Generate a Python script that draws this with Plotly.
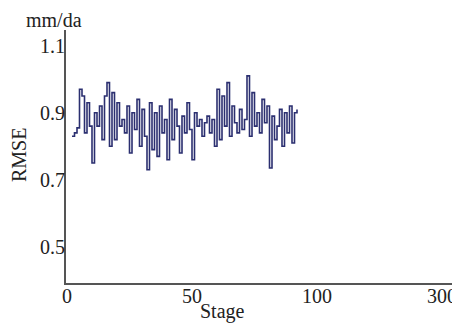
import plotly.graph_objects as go

stages = list(range(2, 93))
rmse = [0.83, 0.84, 0.855, 0.97, 0.95, 0.84, 0.93, 0.86, 0.75, 0.90,
        0.86, 0.92, 0.82, 0.95, 0.99, 0.80, 0.96, 0.82, 0.93, 0.86,
        0.88, 0.84, 0.92, 0.78, 0.90, 0.85, 0.94, 0.80, 0.91, 0.83,
        0.73, 0.93, 0.79, 0.90, 0.77, 0.92, 0.84, 0.88, 0.76, 0.94,
        0.82, 0.91, 0.86, 0.78, 0.89, 0.84, 0.93, 0.85, 0.76, 0.90,
        0.86, 0.88, 0.83, 0.87, 0.89, 0.84, 0.88, 0.80, 0.97, 0.82,
        0.95, 0.86, 0.99, 0.83, 0.92, 0.87, 0.84, 0.91, 0.85, 0.88,
        1.01, 0.83, 0.96, 0.86, 0.90, 0.84, 0.94, 0.87, 0.92, 0.735,
        0.89, 0.82, 0.86, 0.91, 0.80, 0.90, 0.84, 0.92, 0.81, 0.90,
        0.91]

xtick_vals = [0, 50, 100, 150]
xtick_text = ["0", "50", "100", "300"]
ytick_vals = [0.5, 0.7, 0.9, 1.1]
ytick_text = ["0.5", "0.7", "0.9", "1.1"]

font = dict(family="Liberation Serif, Times New Roman, serif", size=20, color="#222")

fig = go.Figure(go.Scatter(x=stages, y=rmse, mode="lines",
                           line=dict(color="#2b2f70", width=1.6, shape="hv")))

fig.update_layout(
    width=460, height=325,
    margin=dict(l=58, r=8, t=22, b=50, autoexpand=False),
    paper_bgcolor="white", plot_bgcolor="white",
    showlegend=False,
    font=font,
    xaxis=dict(range=[-0.4, 157.2], tickvals=xtick_vals, ticktext=xtick_text,
               showgrid=False, zeroline=False, showline=True,
               linecolor="#555", linewidth=2, ticks="", automargin=False,
               ticklabelstandoff=-6),
    yaxis=dict(range=[0.392, 1.147], tickvals=ytick_vals, ticktext=ytick_text,
               showgrid=False, zeroline=False, showline=True,
               linecolor="#555", linewidth=2, ticks="", automargin=False,
               ticklabelstandoff=-5),
    annotations=[
        dict(text="mm/da", x=-0.030, y=1.040, xref="paper", yref="paper",
             showarrow=False, font=font, xanchor="center", yanchor="middle"),
        dict(text="RMSE", x=-0.119, y=0.506, xref="paper", yref="paper",
             showarrow=False, font=font, textangle=-90,
             xanchor="center", yanchor="middle"),
        dict(text="Stage", x=0.396, y=-0.111, xref="paper", yref="paper",
             showarrow=False, font=font, xanchor="center", yanchor="middle"),
    ],
)

fig.write_html("out.html")
